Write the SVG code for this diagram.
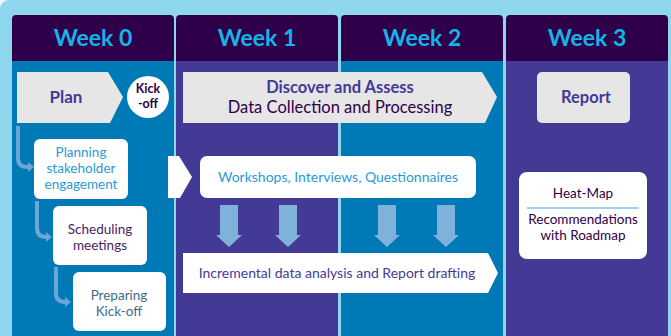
<svg xmlns="http://www.w3.org/2000/svg" width="671" height="336" viewBox="0 0 671 336">
<style>
.hdr{fill:#2e004a}
.ht{font-family:Lato,"Open Sans",sans-serif;font-weight:700;font-size:23px;fill:#14b4e6;text-anchor:middle}
.blue{fill:#007ab6}
.purp{fill:#433a96}
.t{font-family:Lato,"Open Sans",sans-serif;text-anchor:middle}
.b{font-weight:700}
.down{fill:#7fb2db}
.bent{fill:none;stroke:#6aa6d8;stroke-width:4}
.bhead{fill:#6aa6d8}
</style>
<rect width="671" height="336" fill="#eaf6fb"/>
<rect width="690" height="350" rx="9" fill="#8fd7ef"/>
<g id="week0">
<path class="blue" d="M12,55 H174 V336 H12 Z"/>
<path class="hdr" d="M16,15 H170 Q174,15 174,19 V61 H12 V19 Q12,15 16,15 Z"/>
<text class="ht" x="93" y="46">Week 0</text>
</g>
<g id="week1">
<path class="purp" d="M176,55 H338 V336 H176 Z"/>
<path class="hdr" d="M180,15 H334 Q338,15 338,19 V61 H176 V19 Q176,15 180,15 Z"/>
<text class="ht" x="257" y="46">Week 1</text>
</g>
<g id="week2">
<path class="blue" d="M341,55 H503 V336 H341 Z"/>
<path class="hdr" d="M345,15 H499 Q503,15 503,19 V61 H341 V19 Q341,15 345,15 Z"/>
<text class="ht" x="422" y="46">Week 2</text>
</g>
<g id="week3">
<path class="purp" d="M506,55 H668 V336 H506 Z"/>
<path class="hdr" d="M510,15 H664 Q668,15 668,19 V61 H506 V19 Q506,15 510,15 Z"/>
<text class="ht" x="587" y="46">Week 3</text>
</g>
<g id="plan">
<path d="M17,72 H108 L123,97 L110,123 H17 Z" fill="#e6e6e6"/>
<text class="t b" x="66" y="103" font-size="17" fill="#433a96">Plan</text>
</g>
<g id="kickoff">
<circle cx="148" cy="97" r="21" fill="#ffffff"/>
<text class="t b" x="148" y="93" font-size="12.5" fill="#2e004a">Kick</text>
<text class="t b" x="148" y="108" font-size="12.5" fill="#2e004a">-off</text>
</g>
<g id="discover">
<path d="M183,72 H482 L497,97 L485,123 H183 Z" fill="#e6e6e6"/>
<text class="t b" x="340" y="93" font-size="16.5" fill="#433a96">Discover and Assess</text>
<text class="t" x="340" y="113" font-size="16.5" fill="#2e004a">Data Collection and Processing</text>
</g>
<g id="report">
<rect x="537" y="72" width="93" height="51" rx="5" fill="#e6e6e6"/>
<text class="t b" x="586" y="103" font-size="16.5" fill="#433a96">Report</text>
</g>
<g id="planning">
<rect x="34" y="139" width="94" height="60" rx="6" fill="#ffffff"/>
<text class="t" x="81" y="157" font-size="13.5" fill="#2a9ad4">Planning</text>
<text class="t" x="81" y="173" font-size="13.5" fill="#2a9ad4">stakeholder</text>
<text class="t" x="81" y="189" font-size="13.5" fill="#2a9ad4">engagement</text>
</g>
<g id="scheduling">
<rect x="53" y="206" width="94" height="59" rx="6" fill="#ffffff"/>
<text class="t" x="100" y="234" font-size="13.5" fill="#4a2360">Scheduling</text>
<text class="t" x="100" y="250" font-size="13.5" fill="#4a2360">meetings</text>
</g>
<g id="preparing">
<rect x="73" y="272" width="93" height="59" rx="6" fill="#ffffff"/>
<text class="t" x="119" y="300" font-size="13.5" fill="#3b6e86">Preparing</text>
<text class="t" x="119" y="316" font-size="13.5" fill="#3b6e86">Kick-off</text>
</g>
<g id="workshops">
<rect x="200" y="156" width="276" height="42" rx="7" fill="#ffffff"/>
<text class="t" x="338" y="182" font-size="14" fill="#2a9ad4">Workshops, Interviews, Questionnaires</text>
</g>
<g id="incremental">
<path d="M183,253 H488 L498,273 L488,293 H183 Z" fill="#ffffff"/>
<text class="t" x="337" y="278" font-size="14" fill="#433a96">Incremental data analysis and Report drafting</text>
</g>
<g id="heatmap">
<rect x="519" y="172" width="128" height="87" rx="8" fill="#ffffff"/>
<text class="t" x="583" y="198" font-size="13.5" fill="#2e004a">Heat-Map</text>
<line x1="527" y1="208" x2="639" y2="208" stroke="#7ec3e3" stroke-width="1.5"/>
<text class="t" x="583" y="224" font-size="13.5" fill="#2e004a">Recommendations</text>
<text class="t" x="583" y="240" font-size="13.5" fill="#2e004a">with Roadmap</text>
</g>
<g id="connectors">
<path d="M168,156 H179 L192,177 L180,198 H168 Z" fill="#ffffff"/>
<path class="down" d="M220,205 H238 V235 H242 L229,247 L216,235 H220 Z"/>
<path class="down" d="M279,205 H297 V235 H301 L288,247 L275,235 H279 Z"/>
<path class="down" d="M378,205 H396 V235 H400 L387,247 L374,235 H378 Z"/>
<path class="down" d="M437,205 H455 V235 H459 L446,247 L433,235 H437 Z"/>
<path class="bent" d="M18,126 V158 Q18,167 27,167 H29"/>
<path class="bhead" d="M28,162 L34,167 L28,172 Z"/>
<path class="bent" d="M37,201 V228 Q37,237 46,237 H47"/>
<path class="bhead" d="M46,232 L52,237 L46,242 Z"/>
<path class="bent" d="M56,267 V293 Q56,302 65,302 H66"/>
<path class="bhead" d="M65,297 L71,302 L65,307 Z"/>
</g>
</svg>
